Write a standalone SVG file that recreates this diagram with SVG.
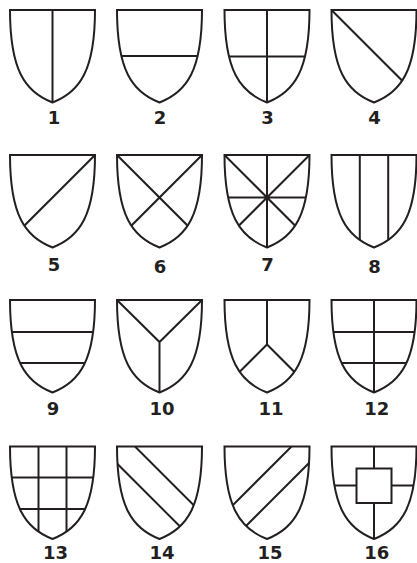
<svg xmlns="http://www.w3.org/2000/svg" xmlns:xlink="http://www.w3.org/1999/xlink" width="417" height="563" viewBox="0 0 417 563">
<style>
.o{fill:none;stroke:#231f20;stroke-width:2;stroke-linejoin:miter}
.l{fill:none;stroke:#231f20;stroke-width:2}
.t{font-family:"DejaVu Sans",sans-serif;font-weight:bold;font-size:18px;fill:#231f20;text-anchor:middle}
</style>
<defs>
<path id="s" d="M0,0 H85 C85,60 70,82 42.5,92.5 C15,82 0,60 0,0 Z"/>
<clipPath id="c"><use xlink:href="#s"/></clipPath>
</defs>
<rect width="417" height="563" fill="#fff"/>
<g id="n1" transform="translate(10,10)"><g clip-path="url(#c)"><path class="l" d="M42.5,0 V95"/></g><use xlink:href="#s" class="o"/></g>
<g id="n2" transform="translate(117,10)"><g clip-path="url(#c)"><path class="l" d="M0,46 H85"/></g><use xlink:href="#s" class="o"/></g>
<g id="n3" transform="translate(224.5,10)"><g clip-path="url(#c)"><path class="l" d="M42.5,0 V95 M0,46.5 H85"/></g><use xlink:href="#s" class="o"/></g>
<g id="n4" transform="translate(331.5,10)"><g clip-path="url(#c)"><path class="l" d="M0,0 L100,100"/></g><use xlink:href="#s" class="o"/></g>
<g id="n5" transform="translate(10,155)"><g clip-path="url(#c)"><path class="l" d="M85,0 L-15,100"/></g><use xlink:href="#s" class="o"/></g>
<g id="n6" transform="translate(117,155)"><g clip-path="url(#c)"><path class="l" d="M0,0 L100,100 M85,0 L-15,100"/></g><use xlink:href="#s" class="o"/></g>
<g id="n7" transform="translate(224.5,155)"><g clip-path="url(#c)"><path class="l" d="M0,0 L100,100 M85,0 L-15,100 M42.5,0 V95 M0,42.5 H85"/></g><use xlink:href="#s" class="o"/></g>
<g id="n8" transform="translate(331.5,155)"><g clip-path="url(#c)"><path class="l" d="M28.3,0 V95 M56.7,0 V95"/></g><use xlink:href="#s" class="o"/></g>
<g id="n9" transform="translate(10,300)"><g clip-path="url(#c)"><path class="l" d="M0,32 H85 M0,63 H85"/></g><use xlink:href="#s" class="o"/></g>
<g id="n10" transform="translate(117,300)"><g clip-path="url(#c)"><path class="l" d="M0,0 L42.5,42 L85,0 M42.5,42 V95"/></g><use xlink:href="#s" class="o"/></g>
<g id="n11" transform="translate(224.5,300)"><g clip-path="url(#c)"><path class="l" d="M42.5,0 V44.5 M-10,97 L42.5,44.5 L95,97"/></g><use xlink:href="#s" class="o"/></g>
<g id="n12" transform="translate(331.5,300)"><g clip-path="url(#c)"><path class="l" d="M42.5,0 V95 M0,32 H85 M0,63 H85"/></g><use xlink:href="#s" class="o"/></g>
<g id="n13" transform="translate(10,446.5)"><g clip-path="url(#c)"><path class="l" d="M28.5,0 V95 M56.5,0 V95 M0,31 H85 M0,62.5 H85"/></g><use xlink:href="#s" class="o"/></g>
<g id="n14" transform="translate(117,446.5)"><g clip-path="url(#c)"><path class="l" d="M18,0 L118,100 M0,17 L100,117"/></g><use xlink:href="#s" class="o"/></g>
<g id="n15" transform="translate(224.5,446.5)"><g clip-path="url(#c)"><path class="l" d="M67,0 L-33,100 M85,16 L-15,116"/></g><use xlink:href="#s" class="o"/></g>
<g id="n16" transform="translate(331.5,446.5)"><g clip-path="url(#c)"><path class="l" d="M42.5,0 V22 M42.5,56.5 V95 M0,39 H25 M60,39 H85"/><rect class="l" x="25" y="22" width="35" height="34.5"/></g><use xlink:href="#s" class="o"/></g>
<g id="labels">
<text class="t" x="54" y="124">1</text>
<text class="t" x="160" y="124">2</text>
<text class="t" x="267.5" y="124">3</text>
<text class="t" x="374.5" y="124">4</text>
<text class="t" x="54" y="270.7">5</text>
<text class="t" x="160" y="273.3">6</text>
<text class="t" x="267.5" y="270.7">7</text>
<text class="t" x="374.5" y="273.3">8</text>
<text class="t" x="53" y="415">9</text>
<text class="t" x="162" y="415">10</text>
<text class="t" x="271" y="414.5">11</text>
<text class="t" x="376.7" y="415">12</text>
<text class="t" x="55.5" y="559">13</text>
<text class="t" x="162" y="558.5">14</text>
<text class="t" x="270" y="559">15</text>
<text class="t" x="376.7" y="559">16</text>
</g>
</svg>
